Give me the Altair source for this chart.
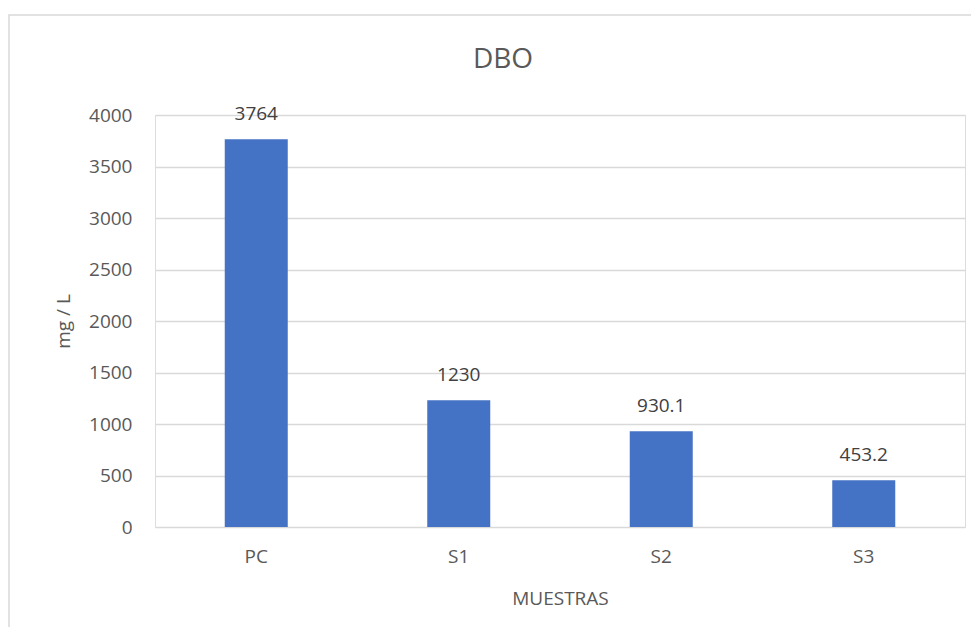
import altair as alt
import pandas as pd

categories = ["PC", "S1", "S2", "S3"]
values = [3764, 1230, 930.1, 453.2]
labels = ["3764", "1230", "930.1", "453.2"]
title_text = ["DBO"]

df = pd.DataFrame({"muestra": categories, "valor": values, "label": labels})

FONT = "Open Sans"
GREY = "#595959"
FS = 19

base = alt.Chart(df)

bars = base.mark_bar(color="#4472C4", size=63).encode(
    x=alt.X("muestra:N", sort=categories, scale=alt.Scale(paddingInner=0, paddingOuter=0),
            axis=alt.Axis(title="MUESTRAS", labelAngle=0, ticks=False, domain=False,
                          labelPadding=20, labelFontSize=FS, labelColor=GREY, labelFont=FONT,
                          titleFontSize=FS, titleFont=FONT, titleColor=GREY, titleFontWeight="normal",
                          titleY=71, titleBaseline="middle")),
    y=alt.Y("valor:Q", scale=alt.Scale(domain=[0, 4000], nice=False),
            axis=alt.Axis(title="mg / L", values=list(range(0, 4001, 500)), format="d",
                          ticks=False, domain=False,
                          labelPadding=23, labelFontSize=FS, labelColor=GREY, labelFont=FONT,
                          gridColor="#d9d9d9", gridWidth=1.5,
                          titleFontSize=FS, titleFont=FONT, titleColor=GREY, titleFontWeight="normal",
                          titleX=-92, titleY=206, titleAngle=-90, titleAlign="center",
                          titleBaseline="middle")),
)

text = base.mark_text(baseline="middle", dy=-25, fontSize=FS, font=FONT, color="#404040").encode(
    x=alt.X("muestra:N", sort=categories),
    y="valor:Q",
    text="label:N",
)

border = alt.Chart(pd.DataFrame({"a": [0]})).mark_rect(
    fill=None, stroke="#d9d9d9", strokeWidth=1.5
).encode(
    x=alt.value(-146), x2=alt.value(840), y=alt.value(-100), y2=alt.value(540)
)

title = alt.Chart(pd.DataFrame({"t": title_text})).mark_text(
    fontSize=28, font=FONT, color=GREY, baseline="middle", align="center"
).encode(
    x=alt.value(348), y=alt.value(-55), text="t:N"
)

chart = alt.layer(border, bars, text, title).properties(
    width=810,
    height=412,
    autosize=alt.AutoSizeParams(type="none"),
    padding={"left": 147, "top": 107, "right": 6, "bottom": 100},
).configure_view(stroke=None).configure(background="white")

chart.save("out.html", embed_options={"renderer": "svg", "actions": False})
